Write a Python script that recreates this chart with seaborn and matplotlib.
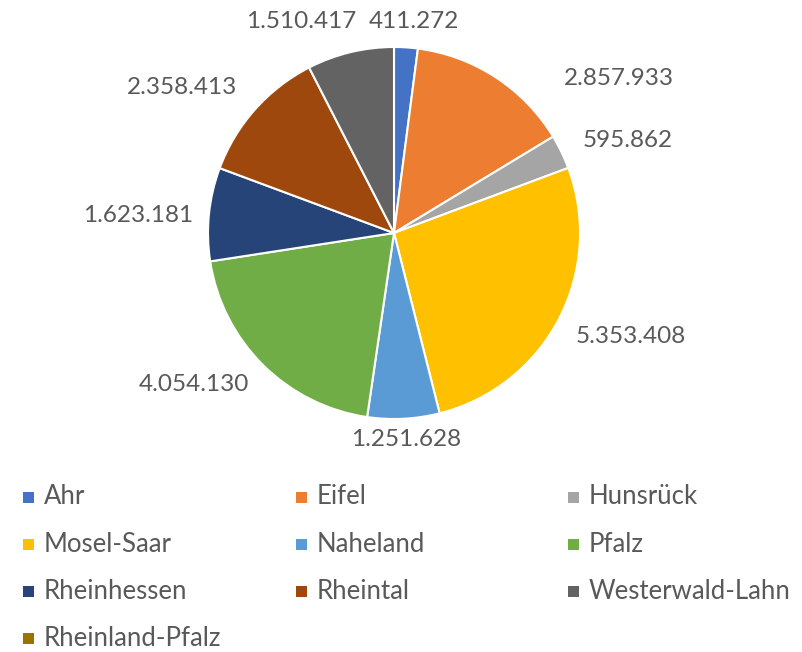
import matplotlib
matplotlib.use("Agg")
import matplotlib.pyplot as plt
import seaborn as sns
import numpy as np
from matplotlib.patches import Rectangle

# ---- data ----
regions = ["Ahr", "Eifel", "Hunsrück", "Mosel-Saar", "Naheland", "Pfalz",
           "Rheinhessen", "Rheintal", "Westerwald-Lahn"]
values = [411272, 2857933, 595862, 5353408, 1251628, 4054130,
          1623181, 2358413, 1510417]
legend_names = regions + ["Rheinland-Pfalz"]
colors = ["#4472C4", "#ED7D31", "#A5A5A5", "#FFC000", "#5B9BD5", "#70AD47",
          "#264478", "#9E480E", "#636363", "#997300"]

# label placement (angle clockwise from top in degrees, radius in pie radii)
label_angle = [5.4, 55.5, 68.4, 113.5, 176.7, 232.9, 274.0, 304.4, 336.4]
label_radius = [1.14, 1.47, 1.35, 1.39, 1.11, 1.35, 1.38, 1.38, 1.24]

sns.set_theme(style="white")
plt.rcParams["font.family"] = ["Lato", "DejaVu Sans"]
text_color = "#595959"

W, H = 803, 652
fig = plt.figure(figsize=(W / 100, H / 100), dpi=100)
cx, cy, R = 394, 233, 186
ax = fig.add_axes([(cx - R) / W, (H - cy - R) / H, 2 * R / W, 2 * R / H])
wedges, _ = ax.pie(values, colors=colors[:len(values)], startangle=90,
                   counterclock=False,
                   wedgeprops=dict(edgecolor="white", linewidth=1.5))
ax.set_xlim(-1, 1)
ax.set_ylim(-1, 1)
ax.set_aspect("equal")
ax.axis("off")

for v, a, r in zip(values, label_angle, label_radius):
    t = np.deg2rad(a)
    lab = f"{v:,}".replace(",", ".")
    ax.text(r * np.sin(t), r * np.cos(t), lab, ha="center", va="center",
            fontsize=17.5, color=text_color)

# legend (3 columns, row-major)
col_x = [23, 296, 568]
row_y0, row_dy = 497, 47.3
for i, (name, c) in enumerate(zip(legend_names, colors)):
    row, col = divmod(i, 3)
    x = col_x[col]
    y = row_y0 + row * row_dy
    fig.add_artist(Rectangle((x / W, (H - y - 5.5) / H), 11 / W, 11 / H,
                             transform=fig.transFigure, facecolor=c,
                             edgecolor="none"))
    fig.text((x + 21) / W, (H - y) / H, name, ha="left", va="center",
             fontsize=18.5, color=text_color)

fig.savefig("out.png", dpi=100, facecolor="white")
